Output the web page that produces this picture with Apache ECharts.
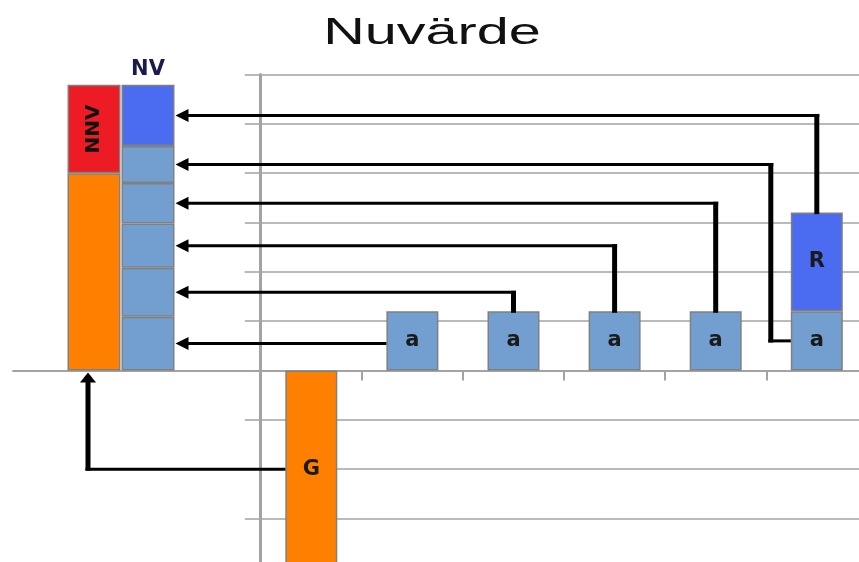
<!DOCTYPE html>
<html><head><meta charset="utf-8">
<script src="https://cdn.jsdelivr.net/npm/echarts@6/dist/echarts.min.js"></script>
<style>html,body{margin:0;padding:0;background:#fff}#c{width:859px;height:562px}</style>
</head><body><div id="c"></div>
<script>
// ---------- data ----------
const chartTitle = 'Nuvärde';
const categories = ['G', 'a1', 'a2', 'a3', 'a4', 'a5'];
const gValues = [-4, '-', '-', '-', '-', '-'];
const aValues = ['-', 1.2, 1.2, 1.2, 1.2, 1.2];
const rValues = ['-', '-', '-', '-', '-', 2.0];
const barLabels = { g: 'G', a: 'a', r: 'R' };
const leftCategories = ['', 'G', 'NV', '', ''];
const presentValue = ['-', 4, '-', '-', '-'];
const nnvValues = ['-', 1.79, '-', '-', '-'];
const nvParts = [1.09, 0.99, 0.90, 0.82, 0.75, 1.24];
const nvLabel = 'NV';
const nnvLabel = 'NNV';
const yMin = -4, yMax = 6, yInterval = 1;

// ---------- styles ----------
const ORANGE = '#ff8000', RED = '#ed1c24', LIGHT = '#729fcf', DARK = '#4b6cf0';
const BORDER = '#808080', GRID = '#a3a3a3';
const BW_MAIN = 52, BW_LEFT = 53;
const labelFont = { fontFamily: 'DejaVu Sans', fontWeight: 'bold', fontSize: 21, color: '#1a1a1a' };
const GRID_TOP = 74.5, GRID_H = 493.3;

const chart = echarts.init(document.getElementById('c'));

function barItem(color) { return { color: color, borderColor: BORDER, borderWidth: 1.5 }; }

const series = [
  { name: 'G', type: 'bar', stack: 'm', xAxisIndex: 0, yAxisIndex: 0, barWidth: BW_MAIN, data: gValues,
    itemStyle: barItem(ORANGE), label: Object.assign({ show: true, position: 'inside', formatter: barLabels.g }, labelFont) },
  { name: 'a', type: 'bar', stack: 'm', xAxisIndex: 0, yAxisIndex: 0, barWidth: BW_MAIN, data: aValues,
    itemStyle: barItem(LIGHT), label: Object.assign({ show: true, position: 'inside', formatter: barLabels.a }, labelFont) },
  { name: 'R', type: 'bar', stack: 'm', xAxisIndex: 0, yAxisIndex: 0, barWidth: BW_MAIN, data: rValues,
    itemStyle: barItem(DARK), label: Object.assign({ show: true, position: 'inside', formatter: barLabels.r }, labelFont) },
  { name: 'G (nuvärde)', type: 'bar', stack: 'l', xAxisIndex: 1, yAxisIndex: 1, barWidth: BW_LEFT, data: presentValue,
    itemStyle: barItem(ORANGE) },
  { name: 'NNV', type: 'bar', stack: 'l', xAxisIndex: 1, yAxisIndex: 1, barWidth: BW_LEFT, data: nnvValues,
    itemStyle: barItem(RED),
    label: { show: true, position: 'inside', rotate: 90, formatter: nnvLabel, fontFamily: 'DejaVu Sans', fontWeight: 'bold', fontSize: 20, color: '#111' } }
];
nvParts.forEach((v, i) => {
  const last = i === nvParts.length - 1;
  series.push({
    name: 'NV' + (i + 1), type: 'bar', stack: 'l', xAxisIndex: 1, yAxisIndex: 1, barWidth: BW_LEFT,
    data: leftCategories.map((c, k) => k === 2 ? v : '-'),
    itemStyle: barItem(last ? DARK : LIGHT),
    label: last ? { show: true, position: 'top', distance: 5, formatter: nvLabel, fontFamily: 'DejaVu Sans', fontWeight: 'bold', fontSize: 21, color: '#1b1b4b' } : { show: false }
  });
});

const option = {
  animation: false,
  backgroundColor: '#fff',
  grid: [
    { left: 260.75, top: GRID_TOP, width: 606.6, height: GRID_H, outerBoundsMode: 'none', containLabel: false },
    { left: 13, top: GRID_TOP, width: 270, height: GRID_H, outerBoundsMode: 'none', containLabel: false }
  ],
  xAxis: [
    { type: 'category', gridIndex: 0, data: categories,
      axisLine: { show: true, lineStyle: { color: GRID, width: 2 } },
      axisTick: { show: true, length: 10, lineStyle: { color: GRID, width: 2 } },
      axisLabel: { show: false }, splitLine: { show: false } },
    { type: 'category', gridIndex: 1, data: leftCategories,
      axisLine: { show: true, lineStyle: { color: GRID, width: 2 } },
      axisTick: { show: false }, axisLabel: { show: false }, splitLine: { show: false } }
  ],
  yAxis: [
    { type: 'value', gridIndex: 0, min: yMin, max: yMax, interval: yInterval, offset: 1,
      axisLine: { show: true, lineStyle: { color: GRID, width: 3 } },
      axisTick: { show: true, length: 15, lineStyle: { color: GRID, width: 1.5 } },
      axisLabel: { show: false },
      splitLine: { show: true, lineStyle: { color: GRID, width: 1.5 } } },
    { type: 'value', gridIndex: 1, min: yMin, max: yMax, interval: yInterval, show: false,
      splitLine: { show: false } }
  ],
  series: series
};
chart.setOption(option);

// ---------- connectors computed through the axes ----------
const P = (g, c, v) => chart.convertToPixel({ gridIndex: g }, [c, v]);
const els = [];
function hSeg(x1, x2, y, e1, e2) {
  const a = Math.min(x1, x2) - (x1 < x2 ? e1 : e2), b = Math.max(x1, x2) + (x1 < x2 ? e2 : e1);
  els.push({ type: 'rect', shape: { x: a, y: y - 1.5, width: b - a, height: 3 }, style: { fill: '#000' }, z: 100 });
}
function vSeg(x, y1, y2) {
  const a = Math.min(y1, y2) - 1.5, b = Math.max(y1, y2) + 1.5;
  els.push({ type: 'rect', shape: { x: x - 2.5, y: a, width: 5, height: b - a }, style: { fill: '#000' }, z: 100 });
}
function arrowLeft(x, y) {
  els.push({ type: 'polygon', shape: { points: [[x, y], [x + 13, y - 6.5], [x + 13, y + 6.5]] }, style: { fill: '#000' }, z: 101 });
}
function arrowUp(x, y) {
  els.push({ type: 'polygon', shape: { points: [[x, y], [x - 8, y + 10], [x + 8, y + 10]] }, style: { fill: '#000' }, z: 101 });
}

const nvRight = P(1, 2, 0)[0] + BW_LEFT / 2 + 1;
let cum = 0;
const targets = nvParts.map(v => { const m = cum + v / 2; cum += v; return P(1, 2, m)[1]; });

for (let i = 0; i < 6; i++) {
  const ty = targets[i];
  if (i === 0) {
    const c = P(0, 1, aValues[1]);
    const sx = c[0] - BW_MAIN / 2;
    hSeg(nvRight + 8, sx, ty, 0, 0);
  } else if (i <= 3) {
    const c = P(0, i + 1, aValues[i + 1]);
    vSeg(c[0], c[1], ty);
    hSeg(nvRight + 8, c[0], ty, 0, 2.5);
  } else if (i === 4) {
    const mid = P(0, 5, aValues[5] / 2);
    const left = mid[0] - BW_MAIN / 2;
    const jx = left - 20;
    hSeg(jx, left, mid[1], 2.5, 0);
    vSeg(jx, mid[1], ty);
    hSeg(nvRight + 8, jx, ty, 0, 2.5);
  } else {
    const c = P(0, 5, aValues[5] + rValues[5]);
    vSeg(c[0], c[1], ty);
    hSeg(nvRight + 8, c[0], ty, 0, 2.5);
  }
  arrowLeft(nvRight, ty);
}
{
  const g = P(0, 0, gValues[0] / 2);
  const gl = g[0] - BW_MAIN / 2;
  const base = P(1, 1, 0);
  const jx = base[0] - 6;
  hSeg(jx, gl, g[1], 2.5, 0);
  vSeg(jx, g[1], base[1] + 9);
  arrowUp(jx, base[1] + 2);
}

els.push({ type: 'text', x: 432, y: 34, scaleX: 1.6, z: 120,
  style: { text: chartTitle, fontFamily: 'Liberation Sans', fontSize: 36, fill: '#111', align: 'center', verticalAlign: 'middle' } });

chart.setOption({ graphic: { elements: els } });
</script>
</body></html>
